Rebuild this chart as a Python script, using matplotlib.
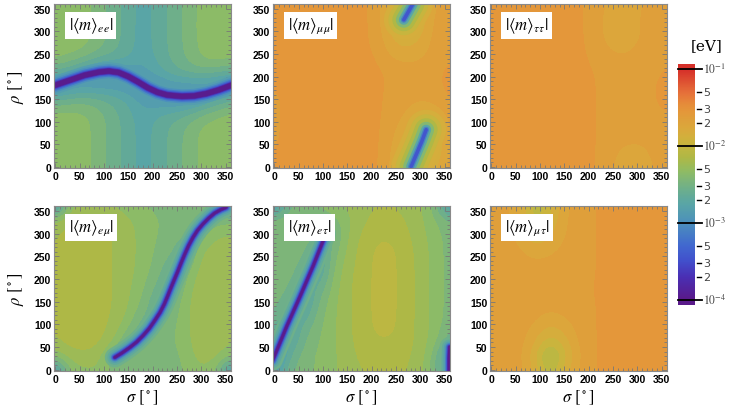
import numpy as np
import matplotlib

matplotlib.use("Agg")
import matplotlib.pyplot as plt  # noqa: E402
from matplotlib.colors import (BoundaryNorm, LinearSegmentedColormap, ListedColormap,  # noqa: E402
                               Normalize)
from matplotlib.ticker import MultipleLocator  # noqa: E402

plt.rcParams["mathtext.fontset"] = "stix"

SIGMA = np.arange(0, 361, 30)
RHO = np.arange(0, 361, 30)

# log10(|<m>_ab| / eV), rows = rho 0..360, columns = sigma 0..360
M_EE = [
    [-2.33, -2.33, -2.36, -2.45, -2.55, -2.65, -2.76, -2.66, -2.57, -2.47, -2.37, -2.33, -2.33],
    [-2.33, -2.33, -2.36, -2.45, -2.55, -2.65, -2.76, -2.66, -2.57, -2.47, -2.37, -2.33, -2.33],
    [-2.33, -2.33, -2.36, -2.45, -2.55, -2.65, -2.76, -2.66, -2.57, -2.47, -2.37, -2.33, -2.33],
    [-2.33, -2.33, -2.36, -2.45, -2.55, -2.65, -2.76, -2.66, -2.58, -2.49, -2.39, -2.34, -2.33],
    [-2.38, -2.37, -2.39, -2.47, -2.57, -2.67, -2.78, -2.72, -2.68, -2.62, -2.52, -2.44, -2.38],
    [-2.62, -2.57, -2.54, -2.58, -2.64, -2.72, -2.86, -2.92, -2.97, -2.97, -2.88, -2.74, -2.62],
    [-3.00, -2.92, -2.87, -2.87, -2.87, -2.92, -3.00, -2.96, -2.88, -2.87, -2.87, -2.92, -3.00],
    [-2.62, -2.72, -2.87, -2.97, -2.97, -2.92, -2.84, -2.74, -2.64, -2.58, -2.54, -2.57, -2.62],
    [-2.38, -2.42, -2.50, -2.60, -2.64, -2.69, -2.78, -2.68, -2.58, -2.49, -2.39, -2.35, -2.38],
    [-2.33, -2.34, -2.37, -2.46, -2.56, -2.66, -2.76, -2.66, -2.57, -2.47, -2.37, -2.33, -2.33],
    [-2.33, -2.33, -2.36, -2.45, -2.55, -2.65, -2.76, -2.66, -2.57, -2.47, -2.36, -2.32, -2.33],
    [-2.32, -2.33, -2.36, -2.45, -2.55, -2.65, -2.76, -2.66, -2.57, -2.47, -2.36, -2.32, -2.32],
    [-2.33, -2.33, -2.36, -2.45, -2.55, -2.65, -2.76, -2.66, -2.57, -2.47, -2.37, -2.33, -2.33],
]
M_MUMU = [
    [-1.56, -1.56, -1.56, -1.56, -1.56, -1.56, -1.56, -1.58, -1.72, -1.95, -1.98, -1.80, -1.66],
    [-1.60, -1.56, -1.56, -1.56, -1.56, -1.56, -1.56, -1.58, -1.70, -1.92, -2.15, -1.88, -1.66],
    [-1.62, -1.56, -1.56, -1.56, -1.56, -1.56, -1.56, -1.58, -1.68, -1.85, -2.15, -1.92, -1.66],
    [-1.63, -1.56, -1.56, -1.56, -1.56, -1.56, -1.56, -1.58, -1.66, -1.76, -1.98, -1.88, -1.66],
    [-1.63, -1.56, -1.56, -1.56, -1.56, -1.56, -1.56, -1.58, -1.64, -1.70, -1.80, -1.76, -1.65],
    [-1.63, -1.56, -1.56, -1.56, -1.56, -1.56, -1.56, -1.58, -1.63, -1.66, -1.69, -1.66, -1.59],
    [-1.59, -1.56, -1.56, -1.56, -1.56, -1.56, -1.56, -1.58, -1.62, -1.64, -1.64, -1.63, -1.56],
    [-1.57, -1.56, -1.56, -1.56, -1.56, -1.56, -1.56, -1.58, -1.62, -1.65, -1.65, -1.63, -1.56],
    [-1.57, -1.56, -1.56, -1.56, -1.56, -1.56, -1.56, -1.60, -1.70, -1.73, -1.70, -1.65, -1.61],
    [-1.57, -1.56, -1.56, -1.56, -1.56, -1.56, -1.57, -1.63, -1.77, -1.82, -1.76, -1.65, -1.63],
    [-1.57, -1.56, -1.56, -1.56, -1.56, -1.56, -1.57, -1.64, -1.83, -1.98, -1.82, -1.65, -1.64],
    [-1.57, -1.56, -1.56, -1.56, -1.56, -1.56, -1.57, -1.65, -1.88, -2.08, -1.88, -1.65, -1.65],
    [-1.56, -1.56, -1.56, -1.56, -1.56, -1.56, -1.57, -1.65, -1.86, -2.00, -1.92, -1.68, -1.66],
]
M_TAUTAU = [
    [-1.56, -1.56, -1.56, -1.56, -1.56, -1.56, -1.56, -1.59, -1.66, -1.76, -1.80, -1.70, -1.64],
    [-1.56, -1.56, -1.56, -1.56, -1.56, -1.56, -1.56, -1.59, -1.65, -1.73, -1.76, -1.68, -1.64],
    [-1.56, -1.56, -1.56, -1.56, -1.56, -1.56, -1.56, -1.59, -1.64, -1.67, -1.68, -1.66, -1.63],
    [-1.56, -1.56, -1.56, -1.56, -1.56, -1.56, -1.56, -1.59, -1.64, -1.64, -1.64, -1.63, -1.62],
    [-1.56, -1.56, -1.56, -1.56, -1.56, -1.56, -1.56, -1.59, -1.64, -1.64, -1.64, -1.62, -1.60],
    [-1.56, -1.56, -1.56, -1.56, -1.56, -1.56, -1.56, -1.59, -1.64, -1.64, -1.64, -1.61, -1.57],
    [-1.56, -1.56, -1.56, -1.56, -1.56, -1.56, -1.56, -1.59, -1.64, -1.64, -1.64, -1.61, -1.57],
    [-1.56, -1.56, -1.56, -1.56, -1.56, -1.56, -1.56, -1.60, -1.64, -1.65, -1.64, -1.62, -1.59],
    [-1.56, -1.56, -1.56, -1.56, -1.56, -1.56, -1.57, -1.62, -1.66, -1.68, -1.65, -1.63, -1.61],
    [-1.56, -1.56, -1.56, -1.56, -1.56, -1.56, -1.58, -1.63, -1.71, -1.76, -1.69, -1.64, -1.62],
    [-1.56, -1.56, -1.56, -1.56, -1.56, -1.56, -1.58, -1.64, -1.74, -1.81, -1.72, -1.64, -1.63],
    [-1.56, -1.56, -1.56, -1.56, -1.56, -1.56, -1.58, -1.64, -1.74, -1.79, -1.71, -1.64, -1.63],
    [-1.56, -1.56, -1.56, -1.56, -1.56, -1.56, -1.58, -1.64, -1.71, -1.76, -1.73, -1.66, -1.64],
]
M_EMU = [
    [-2.90, -2.36, -2.32, -2.32, -2.42, -2.46, -2.46, -2.46, -2.46, -2.38, -2.31, -2.36, -2.90],
    [-2.36, -2.25, -2.22, -2.25, -2.55, -2.52, -2.45, -2.45, -2.45, -2.35, -2.25, -2.27, -2.36],
    [-2.22, -2.16, -2.16, -2.18, -2.30, -2.58, -2.52, -2.45, -2.42, -2.33, -2.23, -2.25, -2.30],
    [-2.20, -2.14, -2.14, -2.16, -2.24, -2.40, -2.62, -2.50, -2.42, -2.32, -2.22, -2.24, -2.28],
    [-2.20, -2.14, -2.14, -2.16, -2.21, -2.32, -2.50, -2.60, -2.45, -2.32, -2.22, -2.24, -2.28],
    [-2.20, -2.14, -2.14, -2.16, -2.20, -2.29, -2.42, -2.62, -2.50, -2.32, -2.22, -2.24, -2.28],
    [-2.20, -2.14, -2.14, -2.16, -2.20, -2.28, -2.38, -2.55, -2.60, -2.35, -2.22, -2.24, -2.28],
    [-2.20, -2.14, -2.14, -2.16, -2.20, -2.27, -2.35, -2.48, -2.62, -2.42, -2.23, -2.24, -2.28],
    [-2.20, -2.14, -2.14, -2.16, -2.20, -2.27, -2.33, -2.44, -2.55, -2.55, -2.26, -2.24, -2.28],
    [-2.20, -2.14, -2.14, -2.16, -2.20, -2.27, -2.33, -2.42, -2.48, -2.60, -2.32, -2.25, -2.28],
    [-2.22, -2.15, -2.15, -2.17, -2.20, -2.27, -2.33, -2.40, -2.45, -2.50, -2.50, -2.30, -2.30],
    [-2.30, -2.20, -2.17, -2.18, -2.22, -2.28, -2.35, -2.40, -2.42, -2.42, -2.48, -2.48, -2.40],
    [-2.90, -2.31, -2.25, -2.25, -2.31, -2.35, -2.40, -2.42, -2.42, -2.40, -2.45, -2.60, -2.90],
]
M_ETAU = [
    [-2.90, -2.50, -2.45, -2.38, -2.32, -2.25, -2.20, -2.17, -2.17, -2.20, -2.25, -2.50, -2.90],
    [-3.10, -2.60, -2.45, -2.38, -2.32, -2.24, -2.17, -2.14, -2.14, -2.18, -2.25, -2.45, -3.00],
    [-2.80, -2.75, -2.50, -2.40, -2.32, -2.23, -2.15, -2.11, -2.11, -2.16, -2.24, -2.38, -2.60],
    [-2.60, -2.80, -2.55, -2.42, -2.32, -2.22, -2.14, -2.08, -2.08, -2.15, -2.24, -2.35, -2.50],
    [-2.50, -2.70, -2.70, -2.45, -2.32, -2.22, -2.14, -2.07, -2.07, -2.15, -2.24, -2.35, -2.45],
    [-2.45, -2.60, -2.80, -2.50, -2.33, -2.22, -2.14, -2.07, -2.07, -2.15, -2.24, -2.35, -2.45],
    [-2.42, -2.50, -2.70, -2.60, -2.35, -2.22, -2.14, -2.07, -2.07, -2.15, -2.24, -2.35, -2.45],
    [-2.42, -2.45, -2.60, -2.75, -2.38, -2.23, -2.14, -2.07, -2.07, -2.15, -2.24, -2.35, -2.45],
    [-2.42, -2.45, -2.50, -2.80, -2.42, -2.25, -2.15, -2.07, -2.07, -2.15, -2.24, -2.35, -2.45],
    [-2.42, -2.43, -2.45, -2.65, -2.50, -2.27, -2.16, -2.08, -2.08, -2.16, -2.25, -2.35, -2.45],
    [-2.42, -2.42, -2.43, -2.50, -2.55, -2.30, -2.18, -2.12, -2.12, -2.18, -2.26, -2.37, -2.45],
    [-2.45, -2.42, -2.42, -2.45, -2.45, -2.32, -2.22, -2.17, -2.17, -2.20, -2.28, -2.40, -2.50],
    [-2.90, -2.50, -2.45, -2.40, -2.35, -2.28, -2.22, -2.20, -2.20, -2.22, -2.28, -2.45, -2.90],
]
M_MUTAU = [
    [-1.64, -1.64, -1.66, -1.82, -2.10, -1.86, -1.68, -1.61, -1.56, -1.56, -1.56, -1.56, -1.56],
    [-1.64, -1.64, -1.67, -1.88, -2.22, -1.94, -1.70, -1.61, -1.56, -1.56, -1.56, -1.56, -1.56],
    [-1.64, -1.64, -1.66, -1.80, -2.00, -1.86, -1.68, -1.61, -1.56, -1.56, -1.56, -1.56, -1.56],
    [-1.64, -1.64, -1.65, -1.73, -1.84, -1.77, -1.66, -1.61, -1.56, -1.56, -1.56, -1.56, -1.56],
    [-1.64, -1.64, -1.64, -1.67, -1.72, -1.69, -1.64, -1.61, -1.56, -1.56, -1.56, -1.56, -1.56],
    [-1.64, -1.64, -1.64, -1.65, -1.66, -1.65, -1.63, -1.61, -1.56, -1.56, -1.56, -1.56, -1.56],
    [-1.64, -1.64, -1.64, -1.64, -1.64, -1.64, -1.63, -1.60, -1.56, -1.56, -1.56, -1.56, -1.56],
    [-1.64, -1.64, -1.64, -1.65, -1.65, -1.64, -1.63, -1.61, -1.56, -1.56, -1.56, -1.56, -1.56],
    [-1.64, -1.64, -1.66, -1.69, -1.68, -1.66, -1.64, -1.61, -1.56, -1.56, -1.56, -1.56, -1.56],
    [-1.64, -1.65, -1.70, -1.78, -1.73, -1.68, -1.64, -1.61, -1.56, -1.56, -1.56, -1.56, -1.56],
    [-1.64, -1.66, -1.74, -1.94, -1.82, -1.70, -1.64, -1.61, -1.56, -1.56, -1.56, -1.56, -1.56],
    [-1.64, -1.67, -1.77, -2.05, -1.90, -1.71, -1.64, -1.61, -1.56, -1.56, -1.56, -1.56, -1.56],
    [-1.64, -1.67, -1.79, -2.12, -1.94, -1.72, -1.65, -1.61, -1.56, -1.56, -1.56, -1.56, -1.56],
]

# cancellation valleys (sigma, rho)
VALLEY_EE = [(-8, 178), (0, 181), (30, 192), (60, 203), (90, 210), (110, 212), (130, 209),
             (150, 200), (170, 188), (190, 175), (210, 165), (230, 159), (260, 156),
             (285, 157), (310, 162), (335, 170), (360, 180), (368, 183)]
VALLEY_EMU = [(122, 27), (137, 37), (153, 49), (167, 61), (180, 75), (193, 91), (204, 108),
              (215, 126), (224, 145), (231, 163), (238, 182), (245, 200), (252, 218),
              (259, 237), (266, 255), (274, 274), (283, 292), (292, 307), (303, 321),
              (315, 334), (327, 345), (340, 353), (351, 358)]
VALLEY_ETAU = [(-4, 20), (0, 30), (25, 95), (52, 160), (80, 230), (106, 300)]
VALLEY_ETAU_EDGE = [(359, -5), (359, 25), (360, 50)]
VALLEY_MUMU_LOW = [(281, 0), (292, 28), (303, 56), (312, 82)]
VALLEY_MUMU_HIGH = [(266, 326), (275, 343), (285, 362)]

TITLES = [r"$|\langle m\rangle_{ee}|$", r"$|\langle m\rangle_{\mu\mu}|$",
          r"$|\langle m\rangle_{\tau\tau}|$", r"$|\langle m\rangle_{e\mu}|$",
          r"$|\langle m\rangle_{e\tau}|$", r"$|\langle m\rangle_{\mu\tau}|$"]
GRIDS = [M_EE, M_MUMU, M_TAUTAU, M_EMU, M_ETAU, M_MUTAU]

# colour scale (log10 eV) as in the legend bar
CB_MIN, CB_MAX = -4.065, -0.935
ANCHOR_VALS = [-4.0, -3.7, -3.5, -3.3, -3.0, -2.75, -2.65, -2.55, -2.45, -2.35, -2.25,
               -2.15, -2.05, -1.95, -1.85, -1.75, -1.65, -1.55, -1.45, -1.3, -1.0]
ANCHOR_COLS = ["#5a1a8a", "#4a30b5", "#4250cc", "#4168d0", "#4c90bc", "#5aa6a6", "#63aa98",
               "#6fb08a", "#7db57a", "#8cbb68", "#9dbb57", "#afb846", "#bdb742", "#cbb43d",
               "#d5ae3c", "#dca73c", "#dfa03b", "#e4983a", "#e68c3a", "#e6703a", "#d6302a"]

pos = [(v - CB_MIN) / (CB_MAX - CB_MIN) for v in ANCHOR_VALS]
cmap = LinearSegmentedColormap.from_list(
    "rb", [(0.0, ANCHOR_COLS[0])] + list(zip(pos, ANCHOR_COLS)) + [(1.0, ANCHOR_COLS[-1])])
cnorm = Normalize(CB_MIN, CB_MAX)
levels = np.arange(-4.1, -0.85, 0.1)
band_cmap = ListedColormap(cmap(cnorm(0.5 * (levels[:-1] + levels[1:]))))
bnorm = BoundaryNorm(levels, band_cmap.N)

# glow layers drawn around each valley: (width in px, log10 value)
DEEP = [(18, -2.85), (14, -3.0), (11, -3.2), (8.5, -3.45), (6.5, -3.75), (5, -3.97)]
THIN = [(20, -2.55), (15, -2.68), (11, -2.85), (8, -3.1), (6, -3.4), (4, -3.75), (2.5, -3.98)]
SOFT = [(40, -1.85), (31, -1.98), (23, -2.15), (16, -2.4), (10, -2.75), (6, -3.1),
        (3.5, -3.45)]

W, H = 729, 414
fig = plt.figure(figsize=(W / 100, H / 100), dpi=100)
col_left = [54, 273, 490]
row_box = [(5, 169), (207, 372)]


def draw_valley(ax, path, layers):
    xs, ys = zip(*path)
    for width, val in layers:
        ax.plot(xs, ys, color=cmap(cnorm(val)), lw=width * 0.72,
                solid_capstyle="round", solid_joinstyle="round")


axes = []
for k, (grid, title) in enumerate(zip(GRIDS, TITLES)):
    r, c = divmod(k, 3)
    top, bot = row_box[r]
    ax = fig.add_axes([col_left[c] / W, (H - bot) / H, 177 / W, (bot - top) / H])
    ax.imshow(np.array(grid), origin="lower", extent=[-15, 375, -15, 375], cmap=band_cmap,
              norm=bnorm, interpolation="bicubic", interpolation_stage="data", aspect="auto")
    ax.set_xlim(-3, 361)
    ax.set_ylim(-3, 361)
    ax.xaxis.set_major_locator(MultipleLocator(50))
    ax.yaxis.set_major_locator(MultipleLocator(50))
    ax.xaxis.set_minor_locator(MultipleLocator(10))
    ax.yaxis.set_minor_locator(MultipleLocator(10))
    ax.tick_params(which="both", direction="in", top=True, right=True, color="#777777",
                   width=0.6, labelsize=7.5, pad=2)
    ax.tick_params(which="major", length=3.5)
    ax.tick_params(which="minor", length=2)
    for lab in ax.get_xticklabels() + ax.get_yticklabels():
        lab.set_family("Liberation Sans")
        lab.set_fontweight("bold")
    for sp in ax.spines.values():
        sp.set_color("#8a8a8a")
        sp.set_linewidth(0.8)
    ax.text(0.082, 0.93, title, transform=ax.transAxes, ha="left", va="top", fontsize=12,
            bbox=dict(boxstyle="square,pad=0.22", fc="white", ec="none"), zorder=5)
    axes.append(ax)

draw_valley(axes[0], VALLEY_EE, DEEP)
draw_valley(axes[1], VALLEY_MUMU_LOW, SOFT)
draw_valley(axes[1], VALLEY_MUMU_HIGH, SOFT)
draw_valley(axes[3], VALLEY_EMU, THIN)
draw_valley(axes[4], VALLEY_ETAU, THIN)
draw_valley(axes[4], VALLEY_ETAU_EDGE, THIN)

axes[0].set_ylabel(r"$\rho\ [^\circ]$", fontsize=12, labelpad=6)
axes[3].set_ylabel(r"$\rho\ [^\circ]$", fontsize=12, labelpad=6)
for ax in axes[3:]:
    ax.set_xlabel(r"$\sigma\ [^\circ]$", fontsize=12, labelpad=3)

# colour bar
cax = fig.add_axes([678 / W, (H - 306) / H, 17 / W, 241 / H])
cax.imshow(np.linspace(CB_MIN, CB_MAX, 400)[:, None], origin="lower", aspect="auto",
           extent=[0, 1, CB_MIN, CB_MAX], cmap=cmap, norm=cnorm)
cax.set_xlim(0, 1)
cax.set_ylim(CB_MIN, CB_MAX)
cax.set_xticks([])
cax.set_yticks([])
for sp in cax.spines.values():
    sp.set_visible(False)
for dec in [-4, -3, -2, -1]:
    cax.plot([0, 1.4], [dec, dec], color="black", lw=1.3, clip_on=False)
    cax.text(1.45, dec, r"$10^{%d}$" % dec, va="center", ha="left", fontsize=8.5,
             color="#444444")
    if dec < -1:
        for mult in [2, 3, 5]:
            v = dec + np.log10(mult)
            cax.plot([1.12, 1.35], [v, v], color="black", lw=1.0, clip_on=False)
            cax.text(1.5, v, str(mult), va="center", ha="left", fontsize=8,
                     color="#444444")
fig.text(707 / W, 1 - 46 / H, "[eV]", ha="center", va="center", fontsize=11,
         family="DejaVu Serif")

fig.savefig("out.png", dpi=100)
